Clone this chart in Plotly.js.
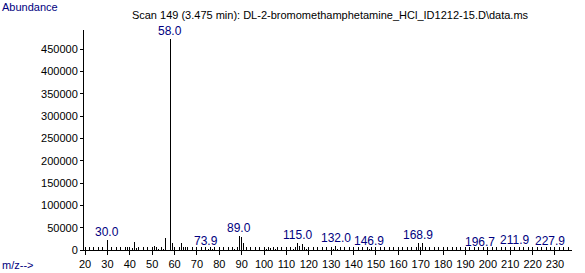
<!DOCTYPE html>
<html>
<head>
<meta charset="utf-8">
<script src="https://cdn.plot.ly/plotly-3.0.1.min.js"></script>
<style>
html,body{margin:0;padding:0;background:#fff;}
#chart{width:585px;height:273px;}
#chart path.js-line{shape-rendering:crispEdges;}
</style>
</head>
<body>
<div id="chart"></div>
<script>
// m/z values of the peaks
var mz = [30.0, 38, 39, 40, 41, 42, 43, 44, 50, 51, 52, 53, 54, 55, 56, 58.0, 59, 62, 63, 64, 65, 66,
          73.9, 75, 77, 78, 86, 87, 89.0, 90, 91, 92, 101, 102, 103, 104, 105,
          113, 114, 115.0, 116, 117, 118, 119, 130, 131, 132.0, 133, 134, 146.9,
          168.9, 171, 196.7, 211.9, 214, 227.9];
// abundance of each peak
var abundance = [22000, 3000, 7500, 3000, 4000, 18000, 4500, 1500, 5500, 8000, 2500, 3000, 2000, 2500, 27000, 472000, 16000, 4000, 15000, 3000, 7500, 2500,
          2000, 1500, 2500, 1500, 1500, 2000, 31000, 30000, 16000, 2000, 2500, 3500, 3500, 3500, 2000,
          2000, 3000, 16000, 10000, 13000, 4500, 2000, 5000, 3000, 8500, 2500, 1500, 1500,
          16000, 15000, 1000, 3500, 6000, 1500];
// labelled peaks
var labelledMz = [30.0, 58.0, 73.9, 89.0, 115.0, 132.0, 146.9, 168.9, 196.7, 211.9, 227.9];
// y axis tick values
var yTicks = [0, 50000, 100000, 150000, 200000, 250000, 300000, 350000, 400000, 450000];
var titleText = "Scan 149 (3.475 min): DL-2-bromomethamphetamine_HCl_ID1212-15.D\\data.ms";

var lx = [], ly = [];
for (var i = 0; i < mz.length; i++) {
  lx.push(mz[i], mz[i], null);
  ly.push(0, abundance[i], null);
}

var navy = "#000080";
var L = 84, R = 572, T = 30, B = 250;
var pw = R - L, ph = B - T;
function px2x(p){ return (p - L) / pw; }
function py2y(p){ return (B - p) / ph; }

var annotations = labelledMz.map(function(m){
  var idx = mz.indexOf(m);
  return {
    x: m, y: abundance[idx], xref: 'x', yref: 'y',
    text: m.toFixed(1), showarrow: false,
    xanchor: 'center', yanchor: 'bottom', yshift: -1,
    font: {family: 'Arial, "Liberation Sans", sans-serif', size: 12, color: navy}
  };
});
annotations.push({
  x: px2x(0), y: py2y(7), xref: 'paper', yref: 'paper', text: 'Abundance',
  showarrow: false, xanchor: 'left', yanchor: 'middle',
  font: {family: 'Arial, "Liberation Sans", sans-serif', size: 11, color: navy}
});
annotations.push({
  x: px2x(0), y: py2y(265), xref: 'paper', yref: 'paper', text: 'm/z-->',
  showarrow: false, xanchor: 'left', yanchor: 'middle',
  font: {family: 'Arial, "Liberation Sans", sans-serif', size: 11, color: navy}
});

var layout = {
  width: 585, height: 273,
  margin: {l: L, r: 585 - R, t: T, b: 273 - B, pad: 0},
  paper_bgcolor: '#fff', plot_bgcolor: '#fff',
  showlegend: false,
  title: {
    text: titleText, xref: 'container', yref: 'container',
    x: 330 / 585, xanchor: 'center', y: 1 - 15 / 273, yanchor: 'middle',
    font: {family: 'Arial, "Liberation Sans", sans-serif', size: 11, color: '#000'}
  },
  xaxis: {
    range: [19.55, 237.6], showgrid: false, zeroline: false,
    showline: true, linecolor: '#000', linewidth: 1,
    ticks: 'outside', ticklen: 4, tickcolor: '#000', tickwidth: 1,
    tick0: 0, dtick: 10,
    minor: {ticks: 'inside', ticklen: 3, dtick: 2, tick0: 0, tickcolor: '#000', tickwidth: 1},
    tickfont: {family: 'Arial, "Liberation Sans", sans-serif', size: 11, color: '#000'},
    fixedrange: true
  },
  yaxis: {
    range: [0, 493000], showgrid: false, zeroline: false,
    showline: true, linecolor: '#000', linewidth: 1,
    ticks: 'outside', ticklen: 3, tickcolor: '#000', tickwidth: 1,
    tickmode: 'array', tickvals: yTicks, ticktext: yTicks.map(String),
    tickfont: {family: 'Arial, "Liberation Sans", sans-serif', size: 11, color: '#000'},
    fixedrange: true
  },
  annotations: annotations
};

Plotly.newPlot('chart', [{
  type: 'scatter', mode: 'lines', x: lx, y: ly,
  line: {color: '#000', width: 1}, hoverinfo: 'skip', connectgaps: false
}], layout, {staticPlot: true, displayModeBar: false});
</script>
</body>
</html>
